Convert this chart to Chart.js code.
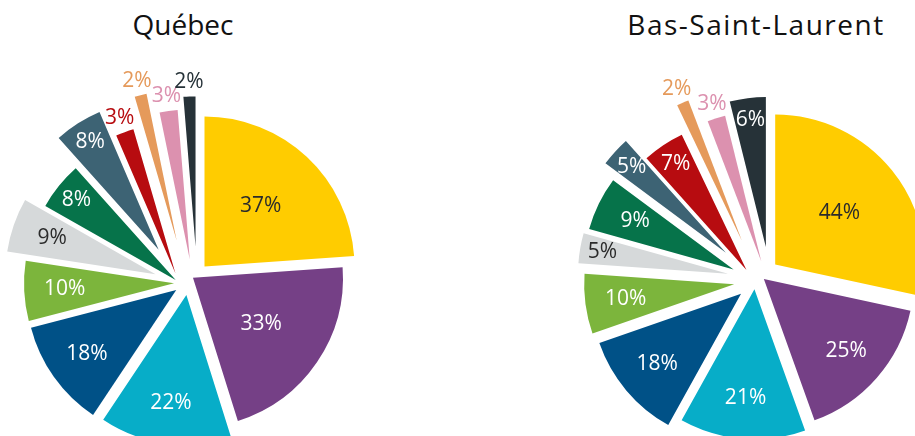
<!DOCTYPE html>
<html>
<head>
<meta charset="utf-8">
<script src="https://cdn.jsdelivr.net/npm/chart.js@4.4.1/dist/chart.umd.min.js"></script>
<style>
  body { margin: 0; background: #fff; width: 915px; height: 436px; overflow: hidden; position: relative; font-family: "Open Sans", sans-serif; }
  .title { position: absolute; top: 5px; font-size: 28px; line-height: 38px; color: #111; text-align: center; width: 400px; }
  #title-qc { left: -17px; }
  #title-bsl { left: 556px; letter-spacing: 1.5px; }
  .wrap { position: absolute; top: 0; height: 436px; }
</style>
</head>
<body>
<div class="title" id="title-qc"></div>
<div class="title" id="title-bsl"></div>
<div class="wrap" style="left:0;width:460px"><canvas id="chart-qc"></canvas></div>
<div class="wrap" style="left:460px;width:455px"><canvas id="chart-bsl"></canvas></div>
<script>
const regions = ["Québec", "Bas-Saint-Laurent"];
const categories = ["Catégorie 1", "Catégorie 2", "Catégorie 3", "Catégorie 4", "Catégorie 5", "Catégorie 6",
                    "Catégorie 7", "Catégorie 8", "Catégorie 9", "Catégorie 10", "Catégorie 11", "Catégorie 12"];
const quebecValues = [37, 33, 22, 18, 10, 9, 8, 8, 3, 2, 3, 2];
const bslValues = [44, 25, 21, 18, 10, 5, 9, 5, 7, 2, 3, 6];

const colors = ["#ffcc00", "#754086", "#07adc8", "#005187", "#7cb53c", "#d6d9da",
                "#06734a", "#3d6374", "#b70c10", "#e59a5b", "#dc91af", "#263238"];
// explode of each slice: [outward px, sideways px (clockwise)]
const quebecPull = [[28, 6], [7, -11], [11, -7], [8, -3], [7, 0], [27, 0],
                    [6, -1], [40, -1], [11, -2], [42, 6], [22, 12], [36, 16]];
const bslPull = [[29, 1], [7, -10], [7, -3], [16, -2], [18, 0], [25, 4],
                 [22, 3], [39, 4], [13, 2], [42, 7], [17, 15], [33, 18]];
const darkText = [0, 5];
const R = 150;

document.getElementById("title-qc").textContent = regions[0];
document.getElementById("title-bsl").textContent = regions[1];

// move each arc out from the centre (instead of the built-in offset, which also shrinks thin slices)
const explode = {
    id: "explode",
    afterDatasetsUpdate(chart) {
        const pull = chart.data.datasets[0].pull;
        chart.getDatasetMeta(0).data.forEach((arc, i) => {
            const mid = (arc.startAngle + arc.endAngle) / 2;
            const [r, s] = pull[i];
            arc.x += r * Math.cos(mid) - s * Math.sin(mid);
            arc.y += r * Math.sin(mid) + s * Math.cos(mid);
        });
    }
};

const sliceLabels = {
    id: "sliceLabels",
    afterDatasetsDraw(chart) {
        const ctx = chart.ctx;
        const values = chart.data.datasets[0].data;
        ctx.save();
        ctx.font = "21px 'Open Sans'";
        ctx.textAlign = "center";
        ctx.textBaseline = "middle";
        chart.getDatasetMeta(0).data.forEach((arc, i) => {
            const mid = (arc.startAngle + arc.endAngle) / 2;
            const deg = arc.circumference * 180 / Math.PI;
            const outside = values[i] <= 3;
            let r;
            if (outside) r = R + 15;
            else if (deg > 65) r = R * 0.55;
            else if (deg > 20) r = R * 0.73;
            else r = R * 0.85;
            const x = arc.x + Math.cos(mid) * r;
            const y = arc.y + Math.sin(mid) * r;
            if (outside) ctx.fillStyle = colors[i];
            else ctx.fillStyle = darkText.includes(i) ? "#2b2b2b" : "#ffffff";
            ctx.fillText(values[i] + "%", x, y);
        });
        ctx.restore();
    }
};

function makePie(canvasId, values, pull, padding) {
    return new Chart(document.getElementById(canvasId), {
        type: "pie",
        data: {
            labels: categories,
            datasets: [{
                data: values,
                pull: pull,
                backgroundColor: colors,
                borderWidth: 0,
                radius: R,
                clip: false
            }]
        },
        options: {
            responsive: true,
            maintainAspectRatio: false,
            animation: false,
            events: [],
            layout: { padding: padding },
            plugins: {
                legend: { display: false },
                tooltip: { enabled: false }
            }
        },
        plugins: [explode, sliceLabels]
    });
}

makePie("chart-qc", quebecValues, quebecPull, { left: 0, right: 98, top: 130, bottom: 0 });
makePie("chart-bsl", bslValues, bslPull, { left: 129, right: 0, top: 128, bottom: 0 });
</script>
</body>
</html>
